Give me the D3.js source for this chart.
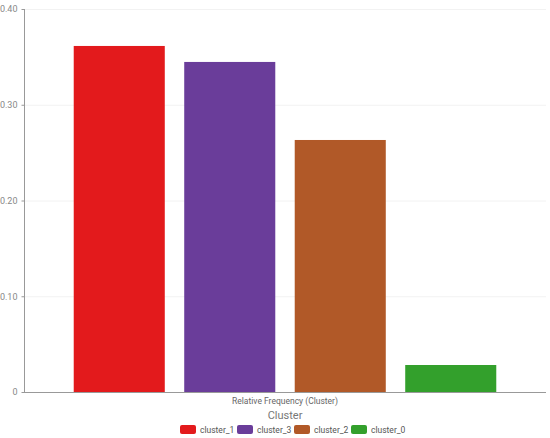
<!DOCTYPE html>
<html>
<head>
<meta charset="utf-8">
<script src="https://cdn.jsdelivr.net/npm/d3@7"></script>
<style>
  body { margin: 0; background: #fff; }
  svg text { font-family: Roboto, "Noto Sans", sans-serif; fill: #666; }
</style>
</head>
<body>
<svg id="chart" width="550" height="438"></svg>
<script>
// data
var clusters = ["cluster_1", "cluster_3", "cluster_2", "cluster_0"];
var frequencies = [0.3614, 0.3447, 0.2632, 0.0282];
var colors = ["#e31a1c", "#6a3d9a", "#b15928", "#33a02c"];
var yTicks = [0, 0.1, 0.2, 0.3, 0.4];
var yTickLabels = ["0", "0.10", "0.20", "0.30", "0.40"];

var svg = d3.select("#chart");
// note: "top" is taken by window.top, so plot edges get their own names
var plotLeft = 24, plotRight = 546, plotTop = 9, plotBottom = 392;

var x = d3.scaleBand().domain(clusters).range([plotLeft, plotRight])
  .paddingInner(0.176).paddingOuter(0.45);
var y = d3.scaleLinear().domain([0, 0.4]).range([plotBottom, plotTop]);

// grid
svg.append("g").selectAll("line").data(yTicks.slice(1)).enter().append("line")
  .attr("x1", plotLeft).attr("x2", plotRight)
  .attr("y1", function(d) { return y(d) + 0.5; })
  .attr("y2", function(d) { return y(d) + 0.5; })
  .attr("stroke", "#f2f2f2");

// bars
svg.append("g").selectAll("rect").data(frequencies).enter().append("rect")
  .attr("x", function(d, i) { return x(clusters[i]); })
  .attr("y", function(d) { return y(d); })
  .attr("width", x.bandwidth())
  .attr("height", function(d) { return plotBottom - y(d); })
  .attr("fill", function(d, i) { return colors[i]; });

// y axis
var yAxis = d3.axisLeft(y).tickValues(yTicks)
  .tickFormat(function(d, i) { return yTickLabels[i]; })
  .tickSize(3).tickPadding(4);
var gy = svg.append("g").attr("transform", "translate(" + (plotLeft + 0.5) + ",0)").call(yAxis);
gy.select(".domain").attr("stroke", "#999").attr("d", "M0," + plotTop + "V" + plotBottom);
gy.selectAll(".tick line").attr("stroke", "#999");
gy.selectAll(".tick text").style("font-size", "9px").style("fill", "#888");

// x axis line
svg.append("line")
  .attr("x1", plotLeft).attr("x2", plotRight)
  .attr("y1", plotBottom + 0.5).attr("y2", plotBottom + 0.5)
  .attr("stroke", "#999");

// axis title
svg.append("text")
  .attr("x", 285).attr("y", 404)
  .attr("text-anchor", "middle")
  .style("font-size", "8.5px")
  .text("Relative Frequency (Cluster)");

// legend
svg.append("text")
  .attr("x", 285).attr("y", 419)
  .attr("text-anchor", "middle")
  .style("font-size", "11px").style("fill", "#777")
  .text("Cluster");

var legendX = [180, 237, 294, 351];
var lg = svg.append("g").selectAll("g").data(clusters).enter().append("g")
  .attr("transform", function(d, i) { return "translate(" + legendX[i] + ",425)"; });
lg.append("rect")
  .attr("width", 16).attr("height", 9).attr("rx", 2)
  .attr("fill", function(d, i) { return colors[i]; });
lg.append("text")
  .attr("x", 20).attr("y", 8)
  .style("font-size", "8.5px").style("fill", "#555")
  .text(function(d) { return d; });
</script>
</body>
</html>
